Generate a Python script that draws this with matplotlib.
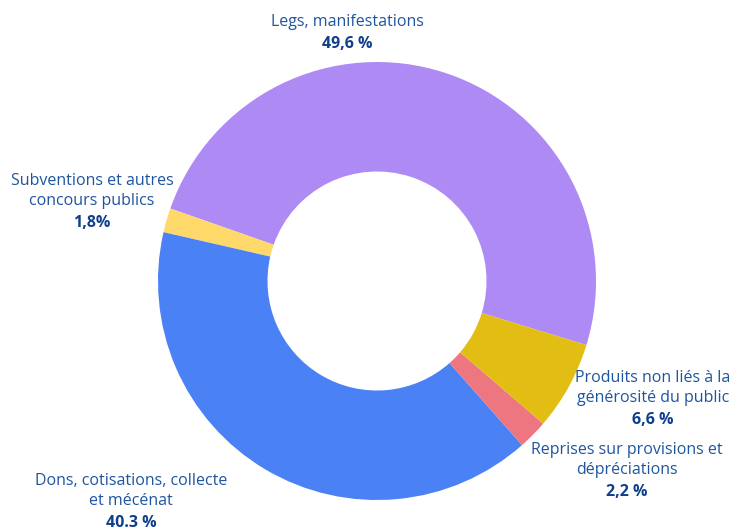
import matplotlib
matplotlib.use("Agg")
import matplotlib.pyplot as plt

labels = ["Legs, manifestations", "Subventions et autres\nconcours publics",
          "Dons, cotisations, collecte\net mécénat", "Reprises sur provisions et\ndépréciations",
          "Produits non liés à la\ngénérosité du public"]
values = [49.6, 1.8, 40.3, 2.2, 6.6]
value_labels = ["49,6 %", "1,8%", "40.3 %", "2,2 %", "6,6 %"]
colors = ["#AE8AF4", "#FFD86A", "#4A81F5", "#EE7680", "#E2BE14"]

W, H = 733, 527
fig = plt.figure(figsize=(W / 100, H / 100), dpi=100)
ax = fig.add_axes([0, 0, 1, 1])

cx, cy, R = 377, H - 281, 219
ax.pie(values, colors=colors, startangle=-17, counterclock=True, center=(cx, cy), radius=R,
       wedgeprops=dict(width=R * 0.5, edgecolor="none"), frame=True)
ax.set_xlim(0, W)
ax.set_ylim(0, H)
ax.set_aspect("equal")
ax.axis("off")

# label anchor positions (pixel, from top): x center, y of first line
pos = [(347, 22), (92, 181), (131, 481), (627, 450), (653, 378)]
fam = ["Open Sans", "DejaVu Sans"]
lh = 20
for lab, vl, (x, y) in zip(labels, value_labels, pos):
    lines = lab.split("\n")
    for i, ln in enumerate(lines):
        ax.text(x, H - (y + i * lh), ln, ha="center", va="center", fontsize=11.5,
                color="#1E55A0", family=fam)
    ax.text(x, H - (y + len(lines) * lh + 2), vl, ha="center", va="center", fontsize=11.5,
            color="#0F3F8C", fontweight="bold", family=fam)

fig.savefig("out.png", dpi=100)
